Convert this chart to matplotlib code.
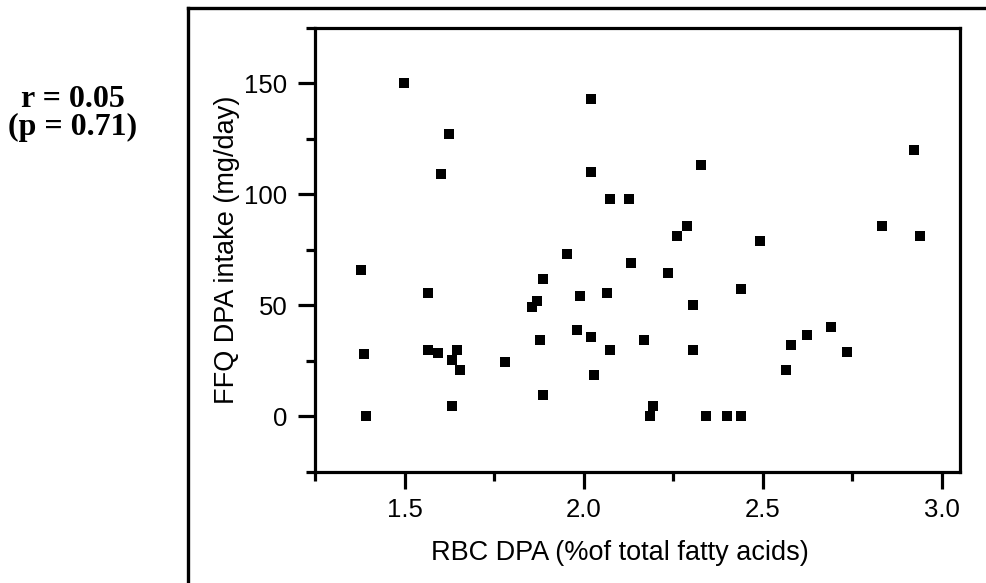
import matplotlib
matplotlib.use('Agg')
import matplotlib.pyplot as plt
from matplotlib.lines import Line2D
from matplotlib.ticker import MultipleLocator, FormatStrFormatter

# RBC DPA (% of total fatty acids) vs FFQ DPA intake (mg/day)
rbc_dpa = [1.498, 2.020, 1.624, 1.602, 2.020, 2.072, 2.125, 1.954, 2.132, 1.378,
           2.923, 2.326, 2.289, 2.259, 2.491, 2.833, 2.938, 1.886, 1.565, 1.870,
           1.856, 1.990, 2.065, 1.982, 2.020, 2.168, 2.072, 1.879, 1.386, 1.565,
           1.594, 1.647, 1.632, 1.654, 1.781, 2.028, 1.886, 1.632, 1.393, 2.236,
           2.438, 2.304, 2.304, 2.691, 2.624, 2.579, 2.736, 2.565, 2.192, 2.184,
           2.341, 2.400, 2.438]
ffq_dpa = [150.0, 143.0, 127.0, 109.0, 110.0, 98.0, 98.0, 73.0, 69.0, 66.0,
           120.0, 113.0, 85.5, 81.0, 79.0, 85.5, 81.0, 62.0, 55.5, 52.0,
           49.0, 54.0, 55.5, 39.0, 35.5, 34.5, 30.0, 34.5, 28.0, 30.0,
           28.5, 30.0, 25.5, 21.0, 24.5, 18.5, 9.5, 4.5, 0.0, 64.5,
           57.5, 50.0, 30.0, 40.0, 36.5, 32.0, 29.0, 21.0, 4.5, 0.0,
           0.0, 0.0, 0.0]

stat_lines = ['r = 0.05', '(p = 0.71)']

plt.rcParams['font.family'] = ['Liberation Sans', 'DejaVu Sans']

fig = plt.figure(figsize=(9.86, 5.83), dpi=100)
ax = fig.add_axes([0.3195, 0.1909, 0.6541, 0.7616])

ax.plot(rbc_dpa, ffq_dpa, linestyle='none', marker='s', markersize=7.4,
        color='black', markeredgewidth=0)

ax.set_xlim(1.25, 3.05)
ax.set_ylim(-25, 175)
ax.xaxis.set_major_locator(MultipleLocator(0.5))
ax.xaxis.set_minor_locator(MultipleLocator(0.25))
ax.yaxis.set_major_locator(MultipleLocator(50))
ax.yaxis.set_minor_locator(MultipleLocator(25))
ax.xaxis.set_major_formatter(FormatStrFormatter('%.1f'))

for spine in ax.spines.values():
    spine.set_linewidth(2.3)
ax.tick_params(which='major', length=12, width=2.3, labelsize=18.5, pad=7)
ax.tick_params(which='minor', length=6.5, width=2.3)
ax.tick_params(axis='y', which='major', pad=8)

ax.set_xlabel('RBC DPA (%of total fatty acids)', fontsize=19.5, labelpad=13)
ax.xaxis.label.set_x(0.473)
ax.set_ylabel('FFQ DPA intake (mg/day)', fontsize=19.5, labelpad=3)

# outer frame (left and top edges only)
fig.add_artist(Line2D([188 / 986, 188 / 986], [0, 1 - 8 / 583], transform=fig.transFigure,
                      color='black', linewidth=2.4, solid_capstyle='projecting'))
fig.add_artist(Line2D([188 / 986, 1.0], [1 - 8 / 583, 1 - 8 / 583], transform=fig.transFigure,
                      color='black', linewidth=2.4, solid_capstyle='projecting'))

fig.text(73 / 986, 1 - 107 / 583, stat_lines[0], ha='center', va='baseline',
         fontsize=23, fontweight='bold', family=['Liberation Serif', 'DejaVu Serif'])
fig.text(73 / 986, 1 - 135 / 583, stat_lines[1], ha='center', va='baseline',
         fontsize=23, fontweight='bold', family=['Liberation Serif', 'DejaVu Serif'])

fig.savefig('out.png', dpi=100)
